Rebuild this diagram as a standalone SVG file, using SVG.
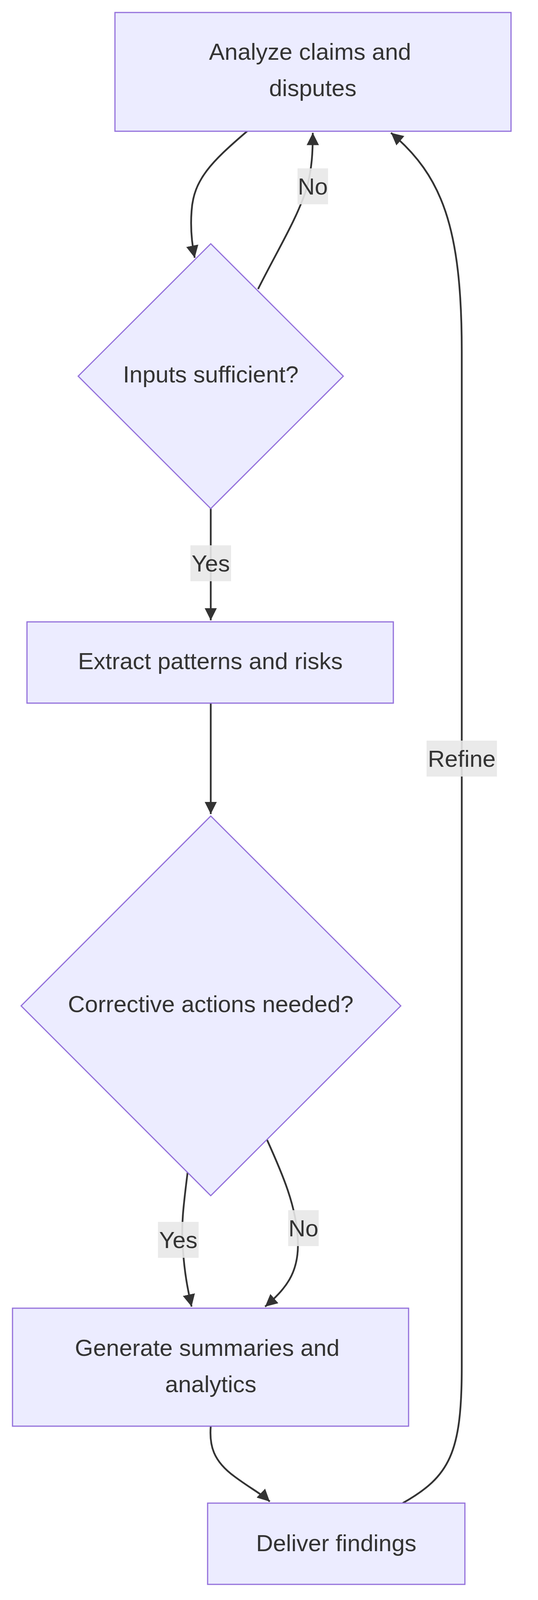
<svg xmlns="http://www.w3.org/2000/svg" width="1376" height="4196" viewBox="0 0 1376 4196">
<style>
.n{fill:#ECECFF;stroke:#9370DB;stroke-width:3}
.t{font-family:"Liberation Sans",Arial,sans-serif;font-size:60px;fill:#333;text-anchor:middle;dominant-baseline:central}
.e{fill:none;stroke:#333;stroke-width:4.5;marker-end:url(#ah)}
.lb{fill:#e8e8e8;opacity:0.9}
</style>
<defs>
<marker id="ah" viewBox="0 0 10 10" refX="10" refY="5" markerWidth="7" markerHeight="7" markerUnits="strokeWidth" orient="auto">
<path d="M0,0 L10,5 L0,10 z" fill="#333"/>
</marker>
</defs>
<rect width="1376" height="4196" fill="#fff"/>
<g id="edges">
<path class="e" d="M632,336 C540,415 495,460 490,540 C486,590 492,630 498,660"/>
<path class="e" d="M660,740 C710,640 760,560 785,480 C798,430 800,390 800,340"/>
<path class="e" d="M539,1301 L539,1588"/>
<path class="e" d="M539,1800 L539,2084"/>
<path class="e" d="M480,3000 C470,3080 462,3140 468,3200 C472,3260 480,3300 490,3345"/>
<path class="e" d="M683,2918 C720,3000 760,3090 762,3180 C764,3260 730,3300 678,3345"/>
<path class="e" d="M539,3651 C535,3700 545,3740 600,3780 C640,3810 670,3825 690,3844"/>
<path class="e" d="M1030,3848 C1150,3780 1181,3720 1181,3500 L1181,900 C1181,580 1130,450 1000,340"/>
</g>
<g id="edge-labels">
<rect class="lb" x="761" y="431" width="78" height="92"/><text class="t" x="800" y="477">No</text>
<rect class="lb" x="487" y="1396" width="104" height="92"/><text class="t" x="539" y="1442">Yes</text>
<rect class="lb" x="404" y="3128" width="104" height="92"/><text class="t" x="456" y="3174">Yes</text>
<rect class="lb" x="737" y="3098" width="78" height="92"/><text class="t" x="776" y="3144">No</text>
<rect class="lb" x="1091" y="1896" width="180" height="92"/><text class="t" x="1181" y="1942">Refine</text>
</g>
<g id="A"><rect class="n" x="294" y="32" width="1013" height="304"/><text class="t" x="793" y="132">Analyze claims and</text><text class="t" x="800" y="225">disputes</text></g>
<g id="B"><polygon class="n" points="539,624 878,963 539,1302 200,963"/><text class="t" x="539" y="958">Inputs sufficient?</text></g>
<g id="C"><rect class="n" x="69" y="1592" width="937" height="208"/><text class="t" x="538" y="1692">Extract patterns and risks</text></g>
<g id="D"><polygon class="n" points="539,2089 1025,2575 539,3061 54,2575"/><text class="t" x="539" y="2570">Corrective actions needed?</text></g>
<g id="E"><rect class="n" x="32" y="3349" width="1013" height="302"/><text class="t" x="530" y="3450">Generate summaries and</text><text class="t" x="539" y="3543">analytics</text></g>
<g id="F"><rect class="n" x="531" y="3848" width="658" height="208"/><text class="t" x="860" y="3950">Deliver findings</text></g>
</svg>
